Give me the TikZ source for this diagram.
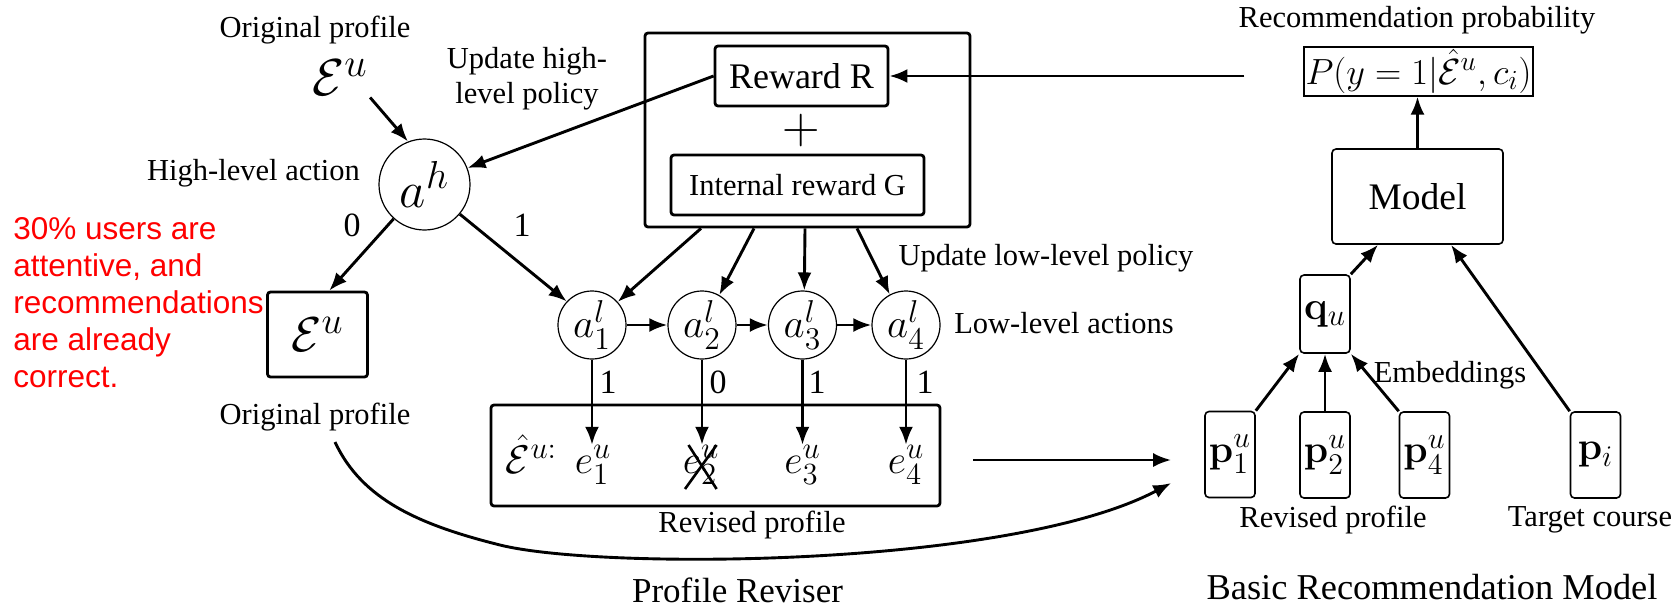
\RequirePackage{fix-cm}
\documentclass[tikz,border=0pt]{standalone}
\usepackage[no-math]{fontspec}
\setmainfont{Liberation Serif}
\newfontfamily\redfont{Liberation Sans}
\usepackage{amsmath}
\usetikzlibrary{arrows.meta,calc,shapes.geometric}
\newcommand\fsz[2]{\fontsize{#1}{#2}\selectfont}
\DeclareMathSizes{26}{26}{20}{15.5}
\DeclareMathSizes{25.5}{25.5}{19.5}{15.3}
\DeclareMathSizes{24.5}{24.5}{18.8}{14.7}
\DeclareMathSizes{20.5}{20.5}{15.8}{12.3}
\DeclareMathSizes{20}{20}{15.4}{12}
\DeclareMathSizes{19.5}{19.5}{15}{11.7}
\DeclareMathSizes{18.2}{18.2}{13.8}{10.9}
\begin{document}
\begin{tikzpicture}[x=0.5pt,y=-0.5pt,
  arr/.style={-{Latex[length=9pt,width=7pt]},line width=1.45pt},
  txt/.style={inner sep=0pt,font=\fsz{15.25}{17.5}},
  circ/.style={circle,draw,line width=0.6pt,inner sep=0pt},
  thickbox/.style={draw,line width=1.4pt,rounded corners=1.5pt,inner sep=0pt},
  thinbox/.style={draw,line width=0.8pt,rounded corners=2pt,inner sep=0pt},
  num/.style={inner sep=0pt,font=\fsz{17}{17}},
  lowact/.style={circ,minimum size=34pt,font=\fsz{20.5}{20.5}},
  emb/.style={inner sep=0pt,anchor=base,font=\fsz{20}{20}},
  pvec/.style={thinbox,minimum width=25pt,minimum height=43pt,font=\fsz{19.5}{19.5}},
]
\useasboundingbox (0,0) rectangle (1680,606);

% ---- left part ----
\node[txt] (ot) at (315,30) {Original profile};
\node[inner sep=1pt,font=\fsz{26}{26}] (eu) at (340,77) {$\mathcal{E}^u$};
\node[circ,minimum size=45.5pt,font=\fsz{25.5}{25.5}] (ah) at (424.5,184.5) {$a^h$};
\node[txt] (hla) at (253.5,173) {High-level action};
\node[num] (n0) at (352,225) {0};
\node[num] (n1) at (522,225) {1};
\node[txt,align=center] (uhp) at (527,79) {Update high-\\level policy};
\node[thickbox,minimum width=50pt,minimum height=42.5pt,font=\fsz{24.5}{24.5}] (eub) at (317.5,334.5) {$\mathcal{E}^u$};
\node[inner sep=0pt,anchor=north west,align=left,text=red,font=\redfont\fsz{15.75}{18.5}] (note) at (13,217) {30\% users are\\attentive, and\\recommendations\\are already\\correct.};
\node[txt] (op2) at (315,417) {Original profile};

% ---- reward block ----
\node[thickbox,minimum width=162.5pt,minimum height=97pt] (rbox) at (807.5,130) {};
\node[thickbox,minimum width=86.5pt,minimum height=30pt,font=\fsz{18}{18}] (rr) at (801.5,76) {Reward R};
\node[inner sep=0pt,font=\fsz{26}{26}] (plus) at (801,130) {$+$};
\node[thickbox,minimum width=126.5pt,minimum height=30pt,font=\fsz{15.25}{15.25}] (irg) at (797.5,185) {Internal reward G};

% ---- low-level actions ----
\node[lowact] (a1) at (592,325) {$a^l_1$};
\node[lowact] (a2) at (702,325) {$a^l_2$};
\node[lowact] (a3) at (802.5,325) {$a^l_3$};
\node[lowact] (a4) at (906,325) {$a^l_4$};
\node[txt] (ulp) at (1046,258) {Update low-level policy};
\node[txt] (lla) at (1064,323) {Low-level actions};

% ---- revised profile ----
\node[thickbox,minimum width=224.5pt,minimum height=50.5pt] (rev) at (715.5,455.5) {};
\node[emb] (he) at (531.5,473) {$\hat{\mathcal{E}}^{u:}$};
\node[emb] (e1) at (593,473) {$e^u_1$};
\node[emb] (e2) at (701,473) {$e^u_2$};
\node[emb] (e3) at (802.5,473) {$e^u_3$};
\node[emb] (e4) at (906,473) {$e^u_4$};
\node[num] (l1) at (608,382) {1};
\node[num] (l2) at (718,382) {0};
\node[num] (l3) at (817,382) {1};
\node[num] (l4) at (925,382) {1};
\node[txt] (rp1) at (752,525) {Revised profile};
\node[inner sep=0pt,font=\fsz{17.5}{17.5}] (prv) at (737.5,590) {Profile Reviser};

% ---- right part ----
\node[txt] (rpb) at (1417,20) {Recommendation probability};
\node[draw,line width=0.6pt,inner sep=0pt,minimum width=114.5pt,minimum height=24.5pt,font=\fsz{18.2}{18.2}] (pb) at (1418.5,71.5) {$P(y=1|\hat{\mathcal{E}}^u,c_i)$};
\node[thinbox,minimum width=85.5pt,minimum height=47.5pt,font=\fsz{18.75}{18.75}] (model) at (1417.5,196.5) {Model};
\node[thinbox,minimum width=25pt,minimum height=39pt,font=\fsz{20}{20}] (qu) at (1325,314) {$\mathbf{q}_u$};
\node[pvec] (p1) at (1230,454.5) {$\mathbf{p}^u_1$};
\node[pvec] (p2) at (1325,455) {$\mathbf{p}^u_2$};
\node[pvec] (p4) at (1424.5,455) {$\mathbf{p}^u_4$};
\node[pvec] (pi) at (1595.5,455) {$\mathbf{p}_i$};
\node[txt] (embl) at (1450,375) {Embeddings};
\node[txt] (rp2) at (1333,520) {Revised profile};
\node[txt] (tc) at (1590,520) {Target course};
\node[inner sep=0pt,font=\fsz{18.2}{18.2}] (brm) at (1432,587) {Basic Recommendation Model};

% ---- connectors ----
\draw[arr] (eu.south east) -- (ah.111);
\draw[arr] (ah.228) -- (eub.75);
\draw[arr] (ah.320) -- (a1.137);
\draw[arr] (rr.west) -- (ah.21);
\draw[arr,shorten <=29.5pt] (rr.east -| pb.west) -- (rr.east);
\draw[arr] ([xshift=-53.25pt]rbox.south) -- (a1.42);
\draw[arr] ([xshift=-26.75pt]rbox.south) -- (a2.60);
\draw[arr] ([xshift=-1.25pt]rbox.south) -- (a3.87);
\draw[arr] ([xshift=24.75pt]rbox.south) -- (a4.118);
\draw[arr] (a1) -- (a2);
\draw[arr] (a2) -- (a3);
\draw[arr] (a3) -- (a4);
\draw[arr] (a1.south) -- (a1.south |- e1.north);
\draw[arr] (a2.south) -- (a2.south |- e2.north);
\draw[arr] (a3.south) -- (a3.south |- e3.north);
\draw[arr] (a4.south) -- (a4.south |- e4.north);
\draw[line width=1.3pt] ($(e2.base)+(-16,16)$) -- ($(e2.base)+(15.6,-28)$);
\draw[line width=1.3pt] ($(e2.base)+(-12.5,-28)$) -- ($(e2.base)+(15.6,16)$);
\draw[arr,shorten <=16pt,shorten >=16.5pt] ([yshift=-2.25pt]rev.east) -- ([yshift=-2.25pt]rev.east -| p1.west);
\draw[arr] ([shift={(20,25)}]op2.center) .. controls (362,500) and (420,525) .. (500,545)
   .. controls (600,570) and (1010,568) .. ([shift={(-33,28.5)}]p1.west);
\draw[arr] (model.north) -- (model.north |- pb.south);
\draw[arr] (qu.north east) -- ([xshift=-19.75pt]model.south);
\draw[arr] (pi.north west) -- ([xshift=16.75pt]model.south);
\draw[arr] (p1.north east) -- (qu.south west);
\draw[arr] (p2.north) -- (qu.south);
\draw[arr] (p4.north west) -- (qu.south east);
\end{tikzpicture}
\end{document}
